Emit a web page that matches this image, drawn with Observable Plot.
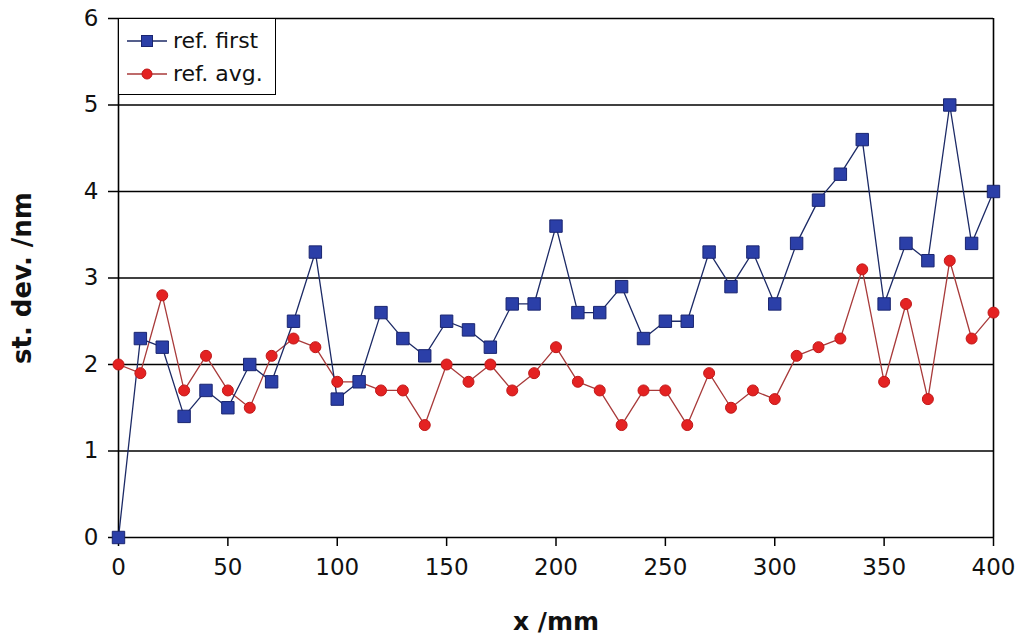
<!DOCTYPE html>
<html>
<head>
<meta charset="utf-8">
<script src="https://cdn.jsdelivr.net/npm/d3@7"></script>
<script src="https://cdn.jsdelivr.net/npm/@observablehq/plot@0.6"></script>
<style>
  html, body { margin: 0; padding: 0; background: #fff; }
  #wrap { position: relative; width: 1018px; height: 635px; }
  g[aria-label="x-axis label"] text { font-weight: bold; font-size: 25px; }
  g[aria-label="y-axis label"] text { font-weight: bold; font-size: 26px; }
  #legend { position: absolute; left: 118px; top: 18px; width: 158px; height: 77px; background: #fff;
    border: 1.5px solid #000; box-sizing: border-box; font-family: "DejaVu Sans", sans-serif; font-size: 22px; color: #111; }
  #legend .row { display: flex; align-items: center; height: 33px; padding-left: 6px; }
  #legend .row:first-child { margin-top: 5px; }
  #legend svg { margin-right: 4px; }
</style>
</head>
<body>
<div id="wrap"></div>
<script>
const xs = [0,10,20,30,40,50,60,70,80,90,100,110,120,130,140,150,160,170,180,190,200,210,220,230,240,250,260,270,280,290,300,310,320,330,340,350,360,370,380,390,400];
const refFirst = [0,2.3,2.2,1.4,1.7,1.5,2.0,1.8,2.5,3.3,1.6,1.8,2.6,2.3,2.1,2.5,2.4,2.2,2.7,2.7,3.6,2.6,2.6,2.9,2.3,2.5,2.5,3.3,2.9,3.3,2.7,3.4,3.9,4.2,4.6,2.7,3.4,3.2,5.0,3.4,4.0];
const refAvg = [2.0,1.9,2.8,1.7,2.1,1.7,1.5,2.1,2.3,2.2,1.8,1.8,1.7,1.7,1.3,2.0,1.8,2.0,1.7,1.9,2.2,1.8,1.7,1.3,1.7,1.7,1.3,1.9,1.5,1.7,1.6,2.1,2.2,2.3,3.1,1.8,2.7,1.6,3.2,2.3,2.6];
const seriesNames = ["ref. first", "ref. avg."];
const xTicks = [0,50,100,150,200,250,300,350,400];
const yTicks = [0,1,2,3,4,5,6];

const first = xs.map((x, i) => ({x, y: refFirst[i]}));
const avg = xs.map((x, i) => ({x, y: refAvg[i]}));

const blueFill = "#2b3fa8", blueStroke = "#1a2570", blueLine = "#1c2a66";
const redFill = "#e42222", redStroke = "#c01818", redLine = "#a83a3a";

const chart = Plot.plot({
  width: 1018,
  height: 635,
  marginLeft: 118,
  marginRight: 25,
  marginTop: 18,
  marginBottom: 98,
  style: {fontSize: "23px", fontFamily: "DejaVu Sans, sans-serif", color: "#111", background: "#fff"},
  x: {domain: [0, 400]},
  y: {domain: [0, 6]},
  marks: [
    Plot.ruleY(yTicks, {stroke: "#000", strokeWidth: 1.6}),
    Plot.ruleX([0, 400], {stroke: "#000", strokeWidth: 1.6}),
    Plot.axisX({ticks: xTicks, tickFormat: d3.format("d"), fontSize: 23, tickSize: 9, tickPadding: 12, stroke: "#000", strokeWidth: 1.5, label: "x /mm", labelAnchor: "center", labelOffset: 92, labelArrow: "none"}),
    Plot.axisY({ticks: yTicks, tickFormat: d3.format("d"), fontSize: 23, tickSize: 10, tickPadding: 10, stroke: "#000", strokeWidth: 1.5, label: "st. dev. /nm", labelAnchor: "center", labelOffset: 106, labelArrow: "none"}),
    Plot.line(avg, {x: "x", y: "y", stroke: redLine, strokeWidth: 1.3}),
    Plot.line(first, {x: "x", y: "y", stroke: blueLine, strokeWidth: 1.3}),
    Plot.dot(avg, {x: "x", y: "y", r: 5.5, fill: redFill, stroke: redStroke, strokeWidth: 1}),
    Plot.dot(first, {x: "x", y: "y", symbol: "square", r: 7, fill: blueFill, stroke: blueStroke, strokeWidth: 1})
  ]
});
const wrap = document.getElementById("wrap");
wrap.appendChild(chart);

const legend = document.createElement("div");
legend.id = "legend";
const swatch = (line, fill, stroke, square) => `<svg width="44" height="20"><line x1="2" x2="42" y1="10" y2="10" stroke="${line}" stroke-width="1.5"/>` +
  (square ? `<rect x="16.5" y="4.5" width="11" height="11" fill="${fill}" stroke="${stroke}"/>` : `<circle cx="22" cy="10" r="5" fill="${fill}" stroke="${stroke}"/>`) + `</svg>`;
legend.innerHTML = `<div class="row">${swatch(blueLine, blueFill, blueStroke, true)}<span>${seriesNames[0]}</span></div>` +
  `<div class="row">${swatch(redLine, redFill, redStroke, false)}<span>${seriesNames[1]}</span></div>`;
wrap.appendChild(legend);
</script>
</body>
</html>
